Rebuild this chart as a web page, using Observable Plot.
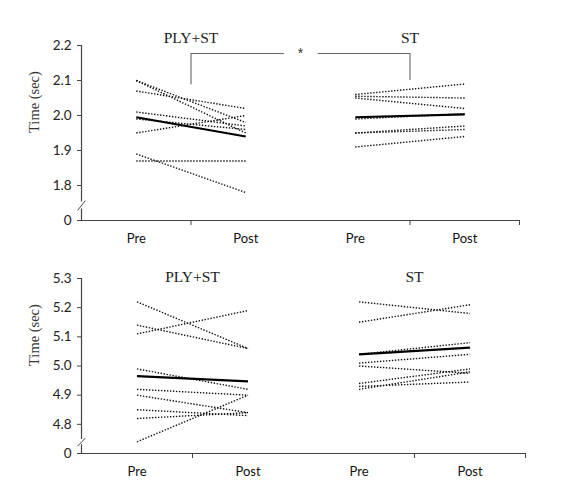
<!DOCTYPE html>
<html>
<head>
<meta charset="utf-8">
<script src="https://cdn.jsdelivr.net/npm/d3@7"></script>
<script src="https://cdn.jsdelivr.net/npm/@observablehq/plot@0.6"></script>
<style>
  body { margin: 0; background: #fff; }
  #chart svg { display: block; }
</style>
</head>
<body>
<div id="chart"></div>
<script>
const groups = ["PLY+ST", "ST"];
const phases = ["Pre", "Post"];

// top panel: individual subjects, pre and post
const topPlyPre  = [2.10, 2.10, 2.07, 2.01, 1.99, 1.95, 1.89, 1.87];
const topPlyPost = [1.95, 1.98, 2.02, 1.97, 1.96, 2.00, 1.78, 1.87];
const topStPre   = [2.06, 2.055, 2.05, 1.99, 1.95, 1.95, 1.91];
const topStPost  = [2.09, 2.05, 2.02, 2.005, 1.97, 1.96, 1.94];
const topPlyMean = [1.995, 1.94];
const topStMean  = [1.995, 2.003];
const topTicks = [1.7, 1.8, 1.9, 2.0, 2.1, 2.2];
const topTickLabels = ["0", "1.8", "1.9", "2.0", "2.1", "2.2"];

// bottom panel
const botPlyPre  = [5.22, 5.14, 5.11, 4.99, 4.92, 4.90, 4.85, 4.82, 4.74];
const botPlyPost = [5.06, 5.06, 5.19, 4.92, 4.90, 4.84, 4.83, 4.84, 4.90];
const botStPre   = [5.22, 5.15, 5.04, 5.01, 5.00, 4.94, 4.93, 4.92];
const botStPost  = [5.18, 5.21, 5.08, 5.04, 4.975, 4.99, 4.945, 4.98];
const botPlyMean = [4.965, 4.947];
const botStMean  = [5.04, 5.063];
const botTicks = [4.7, 4.8, 4.9, 5.0, 5.1, 5.2, 5.3];
const botTickLabels = ["0", "4.8", "4.9", "5.0", "5.1", "5.2", "5.3"];

// significance bracket between groups (top panel only)
const sigStar = "*";
const sigY = 2.177, sigLeftY = 2.09, sigRightY = 2.103;

// pre -> post links for one group
function pairs(pre, post, g) {
  return pre.map((v, i) => ({x1: g * 2 + 0.5, x2: g * 2 + 1.5, y1: v, y2: post[i]}));
}

function panel(o) {
  const subjects = pairs(o.plyPre, o.plyPost, 0).concat(pairs(o.stPre, o.stPost, 1));
  const means = [
    {x1: 0.5, x2: 1.5, y1: o.plyMean[0], y2: o.plyMean[1]},
    {x1: 2.5, x2: 3.5, y1: o.stMean[0], y2: o.stMean[1]}
  ];
  const y0 = o.ticks[0], yTop = o.ticks[o.ticks.length - 1];
  const slant = 0.008 * (yTop - y0);
  const marks = [
    // x axis line and ticks
    Plot.ruleY([y0], {stroke: "#444", strokeWidth: 1.2}),
    Plot.axisX({ticks: [1, 3, 4], tickSize: 5, tickFormat: () => "", stroke: "#444"}),
    Plot.axisX({ticks: [0.5, 1.5, 2.5, 3.5], tickSize: 0, tickPadding: 13,
      tickFormat: d => phases[Math.floor(d) % 2], fontSize: 13, fontFamily: "Lato", fill: "#111"}),
    // broken y axis
    Plot.ruleX([0], {y1: yTop, y2: o.brk[1], stroke: "#444", strokeWidth: 1.2}),
    Plot.ruleX([0], {y1: o.brk[0], y2: y0, stroke: "#444", strokeWidth: 1.2}),
    Plot.link([0], {x1: -0.035, x2: 0.035, y1: o.brk[0] - slant, y2: o.brk[1] + slant, stroke: "#444", strokeWidth: 1}),
    Plot.axisY({ticks: o.ticks, tickSize: 4, tickPadding: 6,
      tickFormat: d => o.tickLabels[o.ticks.indexOf(d)], fontSize: 13.5, fontFamily: "Lato", fill: "#222", stroke: "#444"}),
    Plot.text(["Time (sec)"], {frameAnchor: "left", rotate: -90, dx: -47,
      fontFamily: "Liberation Serif", fontSize: 14.5, fill: "#333"}),
    Plot.text(groups, {x: (d, i) => i * 2 + 1, frameAnchor: "top", dy: o.titleDy,
      fontFamily: "Liberation Serif", fontSize: 15.5, fontWeight: 400, fill: "#222"}),
    // subjects and group means
    Plot.link(subjects, {x1: "x1", x2: "x2", y1: "y1", y2: "y2",
      stroke: "#111", strokeWidth: 1.4, strokeDasharray: "1.4,1.6"}),
    Plot.link(means, {x1: "x1", x2: "x2", y1: "y1", y2: "y2", stroke: "#000", strokeWidth: 2.2})
  ];
  if (o.sig) {
    marks.push(
      Plot.line([[1, sigLeftY], [1, sigY], [1.845, sigY]], {stroke: "#666", strokeWidth: 1.1}),
      Plot.line([[2.16, sigY], [3, sigY], [3, sigRightY]], {stroke: "#666", strokeWidth: 1.1}),
      Plot.text([sigStar], {x: 2, y: sigY, fontSize: 14, fontFamily: "Liberation Sans", fill: "#333"})
    );
  }
  return Plot.plot({
    width: 581,
    height: o.height,
    marginLeft: 81,
    marginRight: o.marginRight,
    marginTop: o.marginTop,
    marginBottom: o.marginBottom,
    x: {domain: [0, 4]},
    y: {domain: [y0, yTop]},
    style: {background: "#fff", overflow: "visible"},
    marks
  });
}

const topChart = panel({
  plyPre: topPlyPre, plyPost: topPlyPost, stPre: topStPre, stPost: topStPost,
  plyMean: topPlyMean, stMean: topStMean, ticks: topTicks, tickLabels: topTickLabels,
  brk: [1.733, 1.753], sig: true, titleDy: -14,
  height: 250, marginTop: 45, marginBottom: 30, marginRight: 62
});
const bottomChart = panel({
  plyPre: botPlyPre, plyPost: botPlyPost, stPre: botStPre, stPost: botStPost,
  plyMean: botPlyMean, stMean: botStMean, ticks: botTicks, tickLabels: botTickLabels,
  brk: [4.730, 4.748], sig: false, titleDy: -8,
  height: 253, marginTop: 28, marginBottom: 50, marginRight: 56
});

d3.select("#chart").append(() => topChart);
d3.select("#chart").append(() => bottomChart);
</script>
</body>
</html>
